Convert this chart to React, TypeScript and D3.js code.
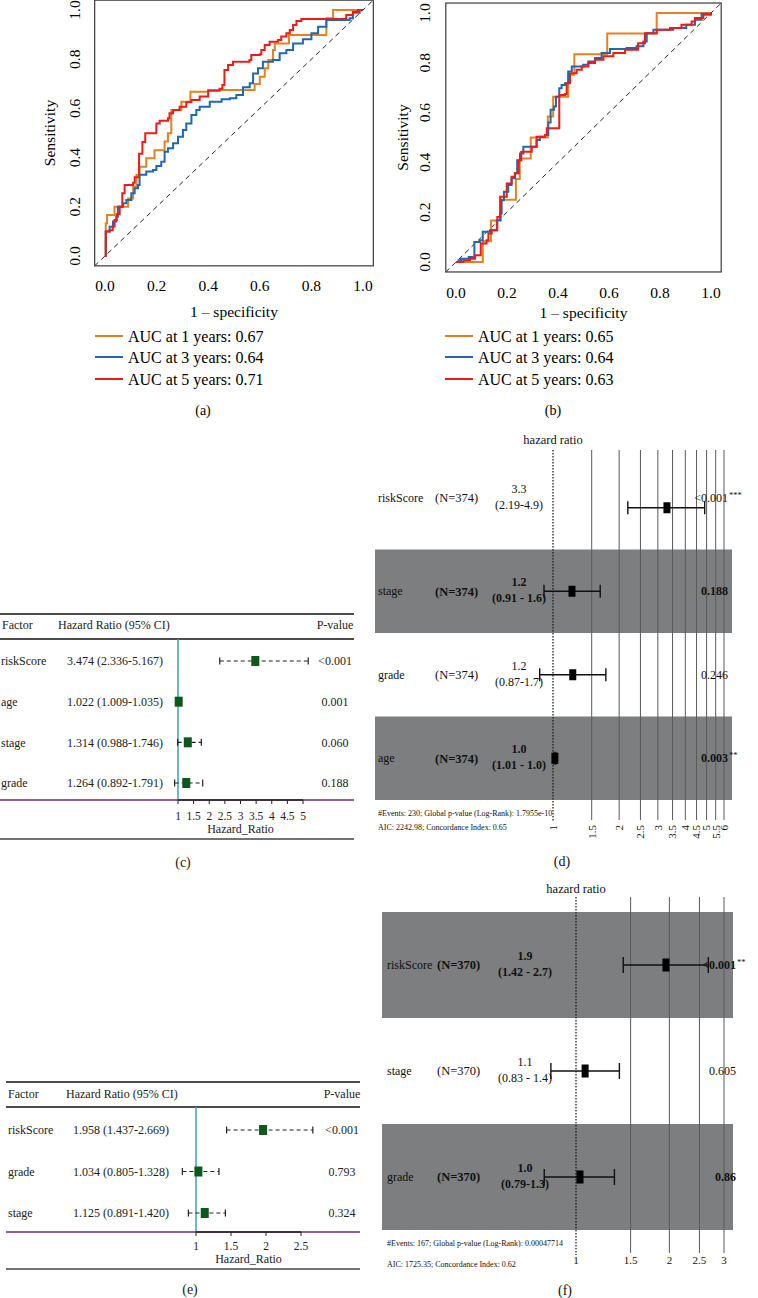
import React from 'react';
import * as d3 from 'd3';

const FONT = '"Liberation Serif", "Times New Roman", Times, serif';

type Pt = [number, number];

// ROC panels (a) and (b)
const YEARS = [1, 3, 5];
const ROC_COLORS = ['#e6811f', '#1f68b4', '#ee1b1b'];
const ROC_TICKS = [0, 0.2, 0.4, 0.6, 0.8, 1.0];
const AUC_A = [0.67, 0.64, 0.71];
const AUC_B = [0.65, 0.64, 0.63];

// each point: at fpr x the sensitivity steps up to y
const ROC_A_1Y: Pt[] = [
  [0, 0], [0.003, 0.133], [0.008, 0.167], [0.037, 0.2], [0.09, 0.234], [0.109, 0.282], [0.122, 0.33],
  [0.134, 0.363], [0.16, 0.397], [0.192, 0.43], [0.231, 0.465], [0.244, 0.499], [0.257, 0.593],
  [0.296, 0.627], [0.331, 0.668], [0.4, 0.675], [0.58, 0.699], [0.6, 0.729], [0.619, 0.763],
  [0.633, 0.797], [0.651, 0.837], [0.658, 0.864], [0.713, 0.898], [0.858, 0.966], [0.884, 1.0], [1, 1],
];
const ROC_A_3Y: Pt[] = [
  [0, 0], [0.003, 0.1], [0.018, 0.119], [0.031, 0.14], [0.044, 0.16], [0.05, 0.2], [0.07, 0.214],
  [0.083, 0.228], [0.102, 0.255], [0.115, 0.275], [0.128, 0.289], [0.134, 0.33], [0.16, 0.343],
  [0.186, 0.35], [0.199, 0.366], [0.218, 0.383], [0.231, 0.424], [0.244, 0.438], [0.264, 0.458],
  [0.283, 0.485], [0.302, 0.512], [0.315, 0.539], [0.335, 0.573], [0.354, 0.593], [0.367, 0.607],
  [0.406, 0.627], [0.452, 0.637], [0.484, 0.641], [0.509, 0.654], [0.535, 0.686], [0.561, 0.702],
  [0.574, 0.742], [0.593, 0.763], [0.612, 0.79], [0.651, 0.797], [0.677, 0.824], [0.703, 0.837],
  [0.729, 0.864], [0.767, 0.881], [0.8, 0.905], [0.826, 0.932], [0.858, 0.959], [0.948, 0.966],
  [0.961, 0.989], [0.987, 1.0], [1, 1],
];
const ROC_A_5Y: Pt[] = [
  [0, 0], [0.003, 0.1], [0.018, 0.105], [0.03, 0.12], [0.037, 0.146], [0.045, 0.17], [0.057, 0.2],
  [0.067, 0.255], [0.076, 0.289], [0.109, 0.298], [0.115, 0.32], [0.132, 0.416], [0.145, 0.463],
  [0.156, 0.499], [0.199, 0.539], [0.212, 0.55], [0.244, 0.56], [0.25, 0.58], [0.264, 0.593],
  [0.289, 0.607], [0.315, 0.625], [0.335, 0.634], [0.367, 0.648], [0.4, 0.672], [0.444, 0.68],
  [0.455, 0.695], [0.463, 0.756], [0.477, 0.776], [0.496, 0.79], [0.56, 0.797], [0.567, 0.817],
  [0.6, 0.82], [0.606, 0.837], [0.619, 0.858], [0.638, 0.871], [0.67, 0.878], [0.683, 0.892],
  [0.703, 0.905], [0.716, 0.919], [0.729, 0.939], [0.742, 0.955], [0.761, 0.963], [0.935, 0.98],
  [0.961, 0.993], [0.98, 1.0], [1, 1],
];
const ROC_B_1Y: Pt[] = [
  [0, 0], [0.105, 0.083], [0.137, 0.167], [0.176, 0.25], [0.235, 0.333], [0.25, 0.416], [0.293, 0.5],
  [0.36, 0.584], [0.381, 0.664], [0.44, 0.752], [0.464, 0.834], [0.593, 0.918], [0.787, 1.0], [1, 1],
];
const ROC_B_3Y: Pt[] = [
  [0, 0], [0.01, 0.007], [0.02, 0.013], [0.05, 0.02], [0.072, 0.08], [0.094, 0.087], [0.105, 0.121],
  [0.133, 0.128], [0.16, 0.168], [0.173, 0.195], [0.179, 0.248], [0.188, 0.282], [0.205, 0.309],
  [0.218, 0.336], [0.231, 0.356], [0.24, 0.409], [0.251, 0.436], [0.264, 0.463], [0.316, 0.49],
  [0.329, 0.503], [0.349, 0.51], [0.362, 0.56], [0.371, 0.611], [0.384, 0.624], [0.392, 0.664],
  [0.405, 0.698], [0.414, 0.711], [0.427, 0.718], [0.44, 0.765], [0.454, 0.785], [0.499, 0.792],
  [0.519, 0.805], [0.545, 0.819], [0.571, 0.839], [0.604, 0.855], [0.669, 0.859], [0.708, 0.866],
  [0.735, 0.886], [0.748, 0.919], [0.774, 0.933], [0.852, 0.94], [0.903, 0.953], [0.937, 0.973],
  [0.963, 0.997], [1, 1],
];
const ROC_B_5Y: Pt[] = [
  [0, 0], [0.029, 0.007], [0.055, 0.013], [0.075, 0.027], [0.097, 0.074], [0.12, 0.087], [0.127, 0.114],
  [0.14, 0.128], [0.162, 0.181], [0.173, 0.262], [0.199, 0.315], [0.218, 0.342], [0.231, 0.356],
  [0.246, 0.409], [0.256, 0.443], [0.297, 0.463], [0.316, 0.503], [0.349, 0.51], [0.356, 0.537],
  [0.405, 0.671], [0.427, 0.675], [0.434, 0.718], [0.447, 0.758], [0.473, 0.772], [0.493, 0.785],
  [0.519, 0.799], [0.545, 0.812], [0.578, 0.826], [0.617, 0.839], [0.663, 0.852], [0.714, 0.879],
  [0.741, 0.919], [0.787, 0.933], [0.839, 0.94], [0.884, 0.953], [0.924, 0.966], [0.937, 0.98],
  [0.97, 0.993], [1, 1],
];

// (c) univariate cox table
const C_FACTORS = ['riskScore', 'age', 'stage', 'grade'];
const C_HR = [3.474, 1.022, 1.314, 1.264];
const C_LOW = [2.336, 1.009, 0.988, 0.892];
const C_HIGH = [5.167, 1.035, 1.746, 1.791];
const C_P = ['<0.001', '0.001', '0.060', '0.188'];
const C_TICKS = [1, 1.5, 2, 2.5, 3, 3.5, 4, 4.5, 5];

// (e)
const E_FACTORS = ['riskScore', 'grade', 'stage'];
const E_HR = [1.958, 1.034, 1.125];
const E_LOW = [1.437, 0.805, 0.891];
const E_HIGH = [2.669, 1.328, 1.42];
const E_P = ['<0.001', '0.793', '0.324'];
const E_TICKS = [1, 1.5, 2, 2.5];

// (d) multivariate forest
const D_FACTORS = ['riskScore', 'stage', 'grade', 'age'];
const D_N = [374, 374, 374, 374];
const D_HR = [3.3, 1.22, 1.23, 1.02];
const D_LOW = [2.19, 0.91, 0.87, 1.01];
const D_HIGH = [4.9, 1.64, 1.74, 1.03];
const D_EST = ['3.3', '1.2', '1.2', '1.0'];
const D_CI = ['(2.19-4.9)', '(0.91 - 1.6)', '(0.87-1.7)', '(1.01 - 1.0)'];
const D_P = ['<0.001', '0.188', '0.246', '0.003'];
const D_STARS = ['***', '', '', '**'];
const D_TICKS = [1, 1.5, 2, 2.5, 3, 3.5, 4, 4.5, 5, 5.5, 6];
const D_NOTES = ['#Events: 230; Global p-value (Log-Rank): 1.7955e-10', 'AIC: 2242.98; Concordance Index: 0.65'];

// (f)
const F_FACTORS = ['riskScore', 'stage', 'grade'];
const F_N = [370, 370, 370];
const F_HR = [1.95, 1.07, 1.03];
const F_LOW = [1.42, 0.83, 0.79];
const F_HIGH = [2.67, 1.38, 1.33];
const F_EST = ['1.9', '1.1', '1.0'];
const F_CI = ['(1.42 - 2.7)', '(0.83 - 1.4)', '(0.79-1.3)'];
const F_P = ['<0.001', '0.605', '0.86'];
const F_STARS = ['**', '', ''];
const F_TICKS = [1, 1.5, 2, 2.5, 3];
const F_NOTES = ['#Events: 167; Global p-value (Log-Rank): 0.00047714', 'AIC: 1725.35; Concordance Index: 0.62'];

function RocPanel(p: any) {
  const x = d3.scaleLinear().domain([0, 1]).range([p.x0, p.x1]);
  const y = d3.scaleLinear().domain([0, 1]).range([p.y0, p.y1]);
  const line = d3.line<Pt>().x(d => x(d[0])).y(d => y(d[1])).curve(d3.curveStepAfter);
  const bx0 = x(-0.04), bx1 = x(1.04), by0 = y(-0.04), by1 = y(1.04);
  return (
    <g>
      <line x1={bx0} y1={by0} x2={bx1} y2={by1} stroke="#222" strokeWidth={1} strokeDasharray="5,4" />
      {p.curves.map((c: Pt[], i: number) => (
        <path key={i} d={line(c) || ''} fill="none" stroke={ROC_COLORS[i]} strokeWidth={2} />
      ))}
      <rect x={bx0} y={by1} width={bx1 - bx0} height={by0 - by1} fill="none" stroke="#3a3a3a" strokeWidth={1.2} />
      {ROC_TICKS.map(t => (
        <text key={'x' + t} x={x(t)} y={p.xTickY} dy="0.35em" textAnchor="middle" fontSize={15.5}>{t.toFixed(1)}</text>
      ))}
      {ROC_TICKS.map(t => (
        <text key={'y' + t} transform={`translate(${p.yTickX},${y(t)}) rotate(-90)`} dy="0.35em" textAnchor="middle" fontSize={15.5}>
          {t.toFixed(1)}
        </text>
      ))}
      <text x={(p.x0 + p.x1) / 2} y={p.xTitleY} dy="0.35em" textAnchor="middle" fontSize={15.5}>1 – specificity</text>
      <text transform={`translate(${p.yTitleX},${(p.y0 + p.y1) / 2}) rotate(-90)`} dy="0.35em" textAnchor="middle" fontSize={15.5}>
        Sensitivity
      </text>
      {YEARS.map((yr, i) => (
        <g key={yr}>
          <line x1={p.legendX} x2={p.legendX + 28} y1={p.legendYs[i]} y2={p.legendYs[i]} stroke={ROC_COLORS[i]} strokeWidth={2} />
          <text x={p.legendX + 33} y={p.legendYs[i]} dy="0.35em" fontSize={16}>
            {`AUC at ${yr} years: ${p.aucs[i].toFixed(2)}`}
          </text>
        </g>
      ))}
      <text x={p.tagX} y={p.tagY} dy="0.35em" textAnchor="middle" fontSize={14}>{p.tag}</text>
    </g>
  );
}

function CoxTable(p: any) {
  const ticks: number[] = p.ticks;
  const x = d3.scaleLinear().domain([1, ticks[ticks.length - 1]]).range([p.x1px, p.xEndPx]);
  const row = d3.scalePoint<string>().domain(p.factors).range([p.rowY0, p.rowY1]);
  const fmt = d3.format('.3f');
  return (
    <g fontSize={12} fill="#222">
      <line x1={p.left} x2={p.right} y1={p.topY} y2={p.topY} stroke="#111" strokeWidth={1.5} />
      <line x1={p.left} x2={p.right} y1={p.headLineY} y2={p.headLineY} stroke="#111" strokeWidth={1.5} />
      <text x={p.headFactorX} y={p.headY} dy="0.35em">Factor</text>
      <text x={p.hrHeadX} y={p.headY} dy="0.35em">Hazard Ratio (95% CI)</text>
      <text x={p.pX} y={p.headY} dy="0.35em" textAnchor="middle">P-value</text>
      <line x1={x(1)} x2={x(1)} y1={p.headLineY} y2={p.axisY} stroke="#3aa6ae" strokeWidth={1.5} />
      {p.factors.map((f: string, i: number) => {
        const cy = row(f) as number;
        return (
          <g key={f}>
            <text x={p.factorX} y={cy} dy="0.35em">{f}</text>
            <text x={p.hrRight} y={cy} dy="0.35em" textAnchor="end">
              {`${fmt(p.hr[i])} (${fmt(p.low[i])}-${fmt(p.high[i])})`}
            </text>
            <text x={p.pX} y={cy} dy="0.35em" textAnchor="middle">{p.pv[i]}</text>
            <line x1={x(p.low[i])} x2={x(p.high[i])} y1={cy} y2={cy} stroke="#222" strokeWidth={1.2} strokeDasharray="4,3" />
            <line x1={x(p.low[i])} x2={x(p.low[i])} y1={cy - 3.5} y2={cy + 3.5} stroke="#222" strokeWidth={1.2} />
            <line x1={x(p.high[i])} x2={x(p.high[i])} y1={cy - 3.5} y2={cy + 3.5} stroke="#222" strokeWidth={1.2} />
            <rect x={x(p.hr[i]) - 4} y={cy - 5} width={8} height={10} fill="#0b5a1c" />
          </g>
        );
      })}
      <line x1={p.left} x2={p.right} y1={p.axisY} y2={p.axisY} stroke="#6e2a6e" strokeWidth={1.5} />
      <line x1={x(ticks[0])} x2={x(ticks[ticks.length - 1])} y1={p.axisY} y2={p.axisY} stroke="#222" strokeWidth={1.3} />
      {ticks.map(t => (
        <g key={t}>
          <line x1={x(t)} x2={x(t)} y1={p.axisY} y2={p.axisY + 4} stroke="#222" strokeWidth={1} />
          <text x={x(t)} y={p.tickY} dy="0.35em" textAnchor="middle" fontSize={11.5}>{t}</text>
        </g>
      ))}
      <text x={(x(ticks[0]) + x(ticks[ticks.length - 1])) / 2} y={p.titleY} dy="0.35em" textAnchor="middle">Hazard_Ratio</text>
      <line x1={p.left} x2={p.right} y1={p.bottomY} y2={p.bottomY} stroke="#444" strokeWidth={1.5} />
      <text x={p.tagX} y={p.tagY} dy="0.35em" textAnchor="middle" fontSize={14}>{p.tag}</text>
    </g>
  );
}

function Forest(p: any) {
  const ticks: number[] = p.ticks;
  const x = d3.scaleLog().domain([1, ticks[ticks.length - 1]]).range([p.x1px, p.xEndPx]);
  const band = d3.scaleBand<string>().domain(p.factors).range([p.bandTop, p.bandBottom]);
  const n = p.factors.length;
  return (
    <g fill="#111">
      {p.factors.map((f: string, i: number) =>
        (n - 1 - i) % 2 === 0 ? (
          <rect key={'s' + f} x={p.shadeL} y={band(f)} width={p.shadeR - p.shadeL} height={band.bandwidth()} fill="#7c7e7f" />
        ) : null
      )}
      {ticks.filter(t => t !== 1).map(t => (
        <line key={'g' + t} x1={x(t)} x2={x(t)} y1={p.gridTop} y2={p.gridBottom} stroke="#5a5a5a" strokeWidth={1} />
      ))}
      <line x1={x(1)} x2={x(1)} y1={p.gridTop} y2={p.gridBottom + 2} stroke="#111" strokeWidth={1.2} strokeDasharray="1.5,1.5" />
      <text x={x(1)} y={p.titleY} dy="0.35em" textAnchor="middle" fontSize={12.5}>hazard ratio</text>
      {p.factors.map((f: string, i: number) => {
        const cy = (band(f) as number) + band.bandwidth() / 2;
        const ty = cy + p.textShift[i];
        const shaded = (n - 1 - i) % 2 === 0;
        const fw = shaded ? 'bold' : 'normal';
        return (
          <g key={f}>
            <text x={p.labelX} y={ty} dy="0.35em" fontSize={12}>{f}</text>
            <g fontWeight={fw}>
              <text x={p.nX} y={ty} dy="0.35em" fontSize={12.5}>{`(N=${p.nn[i]})`}</text>
              <text x={p.estX} y={ty - 9} dy="0.35em" textAnchor="middle" fontSize={12}>{p.est[i]}</text>
              <text x={p.estX} y={ty + 7} dy="0.35em" textAnchor="middle" fontSize={12}>{p.ci[i]}</text>
              <text x={p.pRight} y={ty} dy="0.35em" textAnchor="end" fontSize={12}>{p.pv[i]}</text>
            </g>
            {p.stars[i] ? (
              <text x={p.pRight + 1} y={ty - 3} dy="0.35em" fontSize={8.5}>{p.stars[i]}</text>
            ) : null}
            <line x1={x(p.low[i])} x2={x(p.high[i])} y1={cy} y2={cy} stroke="#111" strokeWidth={1.4} />
            <line x1={x(p.low[i])} x2={x(p.low[i])} y1={cy - p.capH / 2} y2={cy + p.capH / 2} stroke="#111" strokeWidth={1.4} />
            <line x1={x(p.high[i])} x2={x(p.high[i])} y1={cy - p.capH / 2} y2={cy + p.capH / 2} stroke="#111" strokeWidth={1.4} />
            <rect x={x(p.hr[i]) - 3.5} y={cy - p.boxH / 2} width={7} height={p.boxH} fill="#000" />
          </g>
        );
      })}
      {ticks.map(t =>
        p.rotateTicks ? (
          <text key={'t' + t} transform={`translate(${x(t)},${p.tickY}) rotate(-90)`} dy="0.35em" textAnchor="end" fontSize={11}>{t}</text>
        ) : (
          <text key={'t' + t} x={x(t)} y={p.tickY} dy="0.35em" textAnchor="middle" fontSize={11}>{t}</text>
        )
      )}
      {p.notes.map((s: string, i: number) => (
        <text key={'n' + i} x={p.noteX} y={p.noteYs[i]} dy="0.35em" fontSize={8}>{s}</text>
      ))}
      <text x={p.tagX} y={p.tagY} dy="0.35em" textAnchor="middle" fontSize={14}>{p.tag}</text>
    </g>
  );
}

export default function App() {
  return (
    <svg width={758} height={1298} style={{ position: 'absolute', left: 0, top: 0 }} fontFamily={FONT}>
      <rect width={758} height={1298} fill="#fff" />
      <RocPanel curves={[ROC_A_1Y, ROC_A_3Y, ROC_A_5Y]} aucs={AUC_A}
        x0={105} x1={363} y0={256} y1={10} yTickX={75} yTitleX={50} xTickY={286} xTitleY={312}
        legendX={95} legendYs={[336, 357, 379]} tag="(a)" tagX={203} tagY={410} />
      <RocPanel curves={[ROC_B_1Y, ROC_B_3Y, ROC_B_5Y]} aucs={AUC_B}
        x0={456} x1={711} y0={262} y1={13} yTickX={425} yTitleX={403} xTickY={293} xTitleY={313}
        legendX={445} legendYs={[336, 357, 379]} tag="(b)" tagX={553} tagY={410} />
      <CoxTable factors={C_FACTORS} hr={C_HR} low={C_LOW} high={C_HIGH} pv={C_P} ticks={C_TICKS}
        x1px={178} xEndPx={303} left={0} right={354} topY={614} headY={625} headLineY={639}
        rowY0={661} rowY1={783} axisY={800} tickY={816} titleY={829} bottomY={839}
        headFactorX={2} factorX={1} hrHeadX={58} hrRight={163} pX={335} tag="(c)" tagX={183} tagY={862} />
      <CoxTable factors={E_FACTORS} hr={E_HR} low={E_LOW} high={E_HIGH} pv={E_P} ticks={E_TICKS}
        x1px={196} xEndPx={301} left={6} right={360} topY={1082} headY={1094} headLineY={1107}
        rowY0={1130} rowY1={1213} axisY={1232} tickY={1246} titleY={1259} bottomY={1269}
        headFactorX={8} factorX={8} hrHeadX={66} hrRight={169} pX={342} tag="(e)" tagX={190} tagY={1289} />
      <Forest factors={D_FACTORS} nn={D_N} hr={D_HR} low={D_LOW} high={D_HIGH} est={D_EST} ci={D_CI}
        pv={D_P} stars={D_STARS} ticks={D_TICKS} notes={D_NOTES}
        x1px={553} xEndPx={724} bandTop={466} bandBottom={800} shadeL={375} shadeR={732}
        gridTop={450} gridBottom={820} titleY={440} labelX={378} nX={435} estX={519} pRight={728}
        rotateTicks={true} tickY={825} noteX={378} noteYs={[813, 827]} capH={13} boxH={11}
        textShift={[-10, 0, 0, 0]} tag="(d)" tagX={562} tagY={861} />
      <Forest factors={F_FACTORS} nn={F_N} hr={F_HR} low={F_LOW} high={F_HIGH} est={F_EST} ci={F_CI}
        pv={F_P} stars={F_STARS} ticks={F_TICKS} notes={F_NOTES}
        x1px={576} xEndPx={724} bandTop={912} bandBottom={1230} shadeL={382} shadeR={733}
        gridTop={897} gridBottom={1253} titleY={889} labelX={387} nX={437} estX={525} pRight={736}
        rotateTicks={false} tickY={1260} noteX={387} noteYs={[1243, 1264]} capH={16} boxH={13}
        textShift={[0, 0, 0]} tag="(f)" tagX={565} tagY={1290} />
    </svg>
  );
}
